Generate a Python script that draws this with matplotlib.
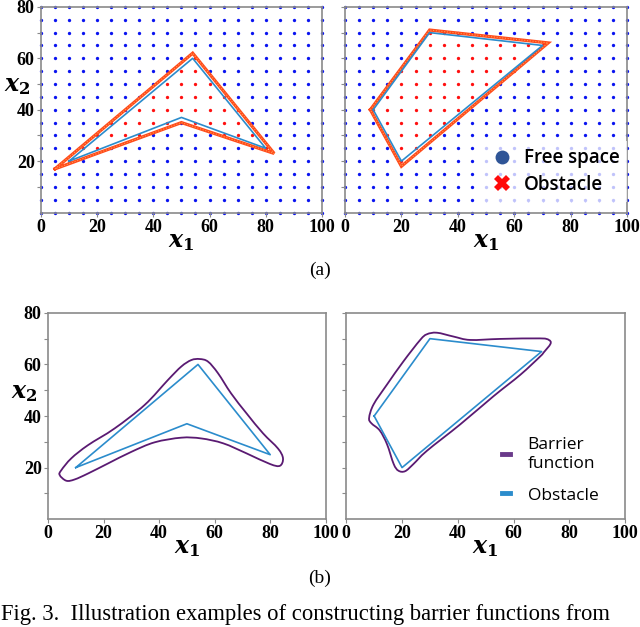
import numpy as np
import matplotlib
matplotlib.use("Agg")
import matplotlib.pyplot as plt
from matplotlib.path import Path
from matplotlib.patches import PathPatch
from matplotlib.lines import Line2D

plt.rcParams['mathtext.fontset'] = 'dejavuserif'

# ---------------- data ----------------
grid_x = np.arange(0, 101, 5)
grid_y = np.arange(0, 81, 5)

# obstacle polygons (x1, x2)
obs1_x = [10, 54, 80, 50, 10]
obs1_y = [20, 60, 25, 37, 20]
obs2_x = [10, 30, 70, 20, 10]
obs2_y = [40, 70, 65, 20, 40]

# sampled (inflated) obstacle boundaries
samp1_x = [5, 54, 83, 50, 5]
samp1_y = [17, 62, 23, 35, 17]
samp2_x = [9, 30, 72, 20, 9]
samp2_y = [40, 71, 66, 18, 40]

# barrier function zero level sets (closed curves)
bar1_x = [4.2, 4.8, 8.4, 14.4, 24.0, 34.8, 43.2, 48.0, 51.6, 54.6, 57.6, 61.2,
          65.9, 71.5, 77.4, 82.8, 84.6, 83.5, 79.9, 71.5, 63.1, 55.2, 48.0, 38.4,
          30.0, 21.6, 14.4, 9.6, 6.6]
bar1_y = [17.1, 19.0, 23.6, 28.7, 35.2, 44.3, 54.0, 59.2, 61.7, 62.1, 61.1, 56.6,
          48.8, 41.0, 33.3, 27.4, 23.6, 20.7, 21.4, 25.5, 29.4, 31.3, 31.6, 29.8,
          26.1, 21.6, 17.7, 15.4, 14.9]
bar2_x = [8.2, 9.8, 14.6, 20.5, 26.5, 28.9, 32.5, 38.5, 44.4, 55.2, 69.5, 72.6,
          73.2, 70.8, 69.5, 62.4, 52.8, 40.9, 28.9, 24.1, 21.1, 18.7, 17.0, 14.6,
          12.0, 9.0]
bar2_y = [39.3, 44.5, 52.2, 61.2, 69.5, 71.7, 72.3, 70.8, 69.5, 69.9, 70.1, 69.5,
          68.0, 64.7, 63.1, 56.0, 47.7, 36.8, 26.5, 21.4, 18.6, 18.8, 21.4, 29.1,
          34.4, 37.2]

x_ticks = [0, 20, 40, 60, 80, 100]
y_ticks = [20, 40, 60, 80]

# ---------------- styling ----------------
BLUE_DOT = '#0a14f0'
RED_DOT = '#ff1010'
RED_LINE = '#ff4a1a'
OBS_BLUE = '#2b8ccc'
BAR_PURPLE = '#5a1a72'
SPINE = '#8a8a8a'
TICK_FONT = dict(family='Liberation Serif', weight='bold', size=13)
LEG_FONT = 'Open Sans'

fig = plt.figure(figsize=(6.4, 6.27), dpi=100)


def style_axes(ax, ylabels=True, ylabel=False):
    ax.set_xlim(0, 100)
    ax.set_ylim(0, 80)
    ax.set_xticks(x_ticks)
    ax.set_yticks(y_ticks)
    ax.set_yticks([10, 30, 50, 70], minor=True)
    ax.set_xticklabels([str(t) for t in x_ticks], fontdict=TICK_FONT)
    if ylabels:
        ax.set_yticklabels([str(t) for t in y_ticks], fontdict=TICK_FONT)
    else:
        ax.set_yticklabels([])
    ax.tick_params(axis='both', which='both', length=3, width=0.8, color=SPINE, pad=1.5)
    for s in ax.spines.values():
        s.set_color(SPINE)
        s.set_linewidth(1.2)
    ax.set_xlabel(r'$\mathbfit{x}_\mathbf{1}$', fontsize=17, labelpad=-5)
    if ylabel:
        ax.set_ylabel(r'$\mathbfit{x}_\mathbf{2}$', fontsize=17, rotation=0)
        ax.yaxis.set_label_coords(-0.085, 0.56)


def grid_points(px, py):
    path = Path(np.column_stack([px, py]))
    gx, gy = np.meshgrid(grid_x, grid_y)
    pts = np.column_stack([gx.ravel(), gy.ravel()])
    inside = path.contains_points(pts)
    return pts[~inside], pts[inside]


def smooth_closed(ax, xs, ys, **kw):
    """Draw a smooth closed curve through the read points (Catmull-Rom as Bezier)."""
    P = np.column_stack([xs, ys])
    n = len(P)
    verts = [P[0]]
    codes = [Path.MOVETO]
    for i in range(n):
        p0, p1, p2, p3 = P[i - 1], P[i], P[(i + 1) % n], P[(i + 2) % n]
        c1 = p1 + (p2 - p0) / 6.0
        c2 = p2 - (p3 - p1) / 6.0
        verts += [c1, c2, p2]
        codes += [Path.CURVE4] * 3
    ax.add_patch(PathPatch(Path(verts, codes), fill=False, **kw))


# ---------- top row ----------
ax1 = fig.add_axes([0.064, 0.661, 0.439, 0.328])
ax2 = fig.add_axes([0.539, 0.661, 0.441, 0.328])
for ax, ox, oy, sx, sy, ylab in [(ax1, obs1_x, obs1_y, samp1_x, samp1_y, True),
                                 (ax2, obs2_x, obs2_y, samp2_x, samp2_y, False)]:
    free, obst = grid_points(sx, sy)
    ax.plot(free[:, 0], free[:, 1], 'o', ms=2.4, color=BLUE_DOT, mew=0, clip_on=False, zorder=1)
    ax.plot(obst[:, 0], obst[:, 1], 'o', ms=2.4, color=RED_DOT, mew=0, clip_on=False, zorder=1)
    ax.plot(sx, sy, color=RED_LINE, lw=2.3, solid_joinstyle='miter', zorder=2)
    ax.plot(sx, sy, color='#ff9a50', lw=0.8, ls=(0, (1, 1.5)), zorder=2)
    ax.plot(ox, oy, color=OBS_BLUE, lw=1.2, zorder=3)
    style_axes(ax, ylabels=ylab, ylabel=ylab)

h_free = Line2D([], [], ls='none', marker='o', ms=10, color='#2f5597', mew=0)
h_obs = Line2D([], [], ls='none', marker='X', ms=11, color='#ff0a0a', mew=0)
leg = ax2.legend([h_free, h_obs], ['Free space', 'Obstacle'], loc='lower right',
                 bbox_to_anchor=(1.0, 0.05), frameon=True, framealpha=0.75,
                 edgecolor='none', fancybox=False, handletextpad=0.15,
                 labelspacing=0.35, borderpad=0.4, borderaxespad=0.0,
                 prop=dict(family=LEG_FONT, weight='semibold', size=13.5))
leg.set_zorder(5)

fig.text(0.5, 0.569, '(a)', ha='center', va='center', family='Liberation Serif', size=14)

# ---------- bottom row ----------
ax3 = fig.add_axes([0.075, 0.172, 0.434, 0.329])
ax4 = fig.add_axes([0.541, 0.172, 0.436, 0.329])
for ax, ox, oy, bx, by, ylab in [(ax3, obs1_x, obs1_y, bar1_x, bar1_y, True),
                                 (ax4, obs2_x, obs2_y, bar2_x, bar2_y, False)]:
    smooth_closed(ax, bx, by, edgecolor=BAR_PURPLE, lw=1.3)
    ax.plot(ox, oy, color=OBS_BLUE, lw=1.2)
    style_axes(ax, ylabels=ylab, ylabel=ylab)

h_bar = Line2D([], [], color='#6a3a8a', lw=3.5)
h_ob = Line2D([], [], color=OBS_BLUE, lw=3.5)
ax4.legend([h_bar, h_ob], ['Barrier\nfunction', 'Obstacle'], loc='lower right',
           bbox_to_anchor=(0.96, 0.0), frameon=False, handlelength=0.5,
           handletextpad=1.0, labelspacing=0.9,
           prop=dict(family=LEG_FONT, size=12.5))

fig.text(0.5, 0.078, '(b)', ha='center', va='center', family='Liberation Serif', size=14)
fig.text(0.002, 0.003, 'Fig. 3.  Illustration examples of constructing barrier functions from',
         ha='left', va='bottom', family='Liberation Serif', size=16.3)

fig.savefig('out.png', dpi=100)
